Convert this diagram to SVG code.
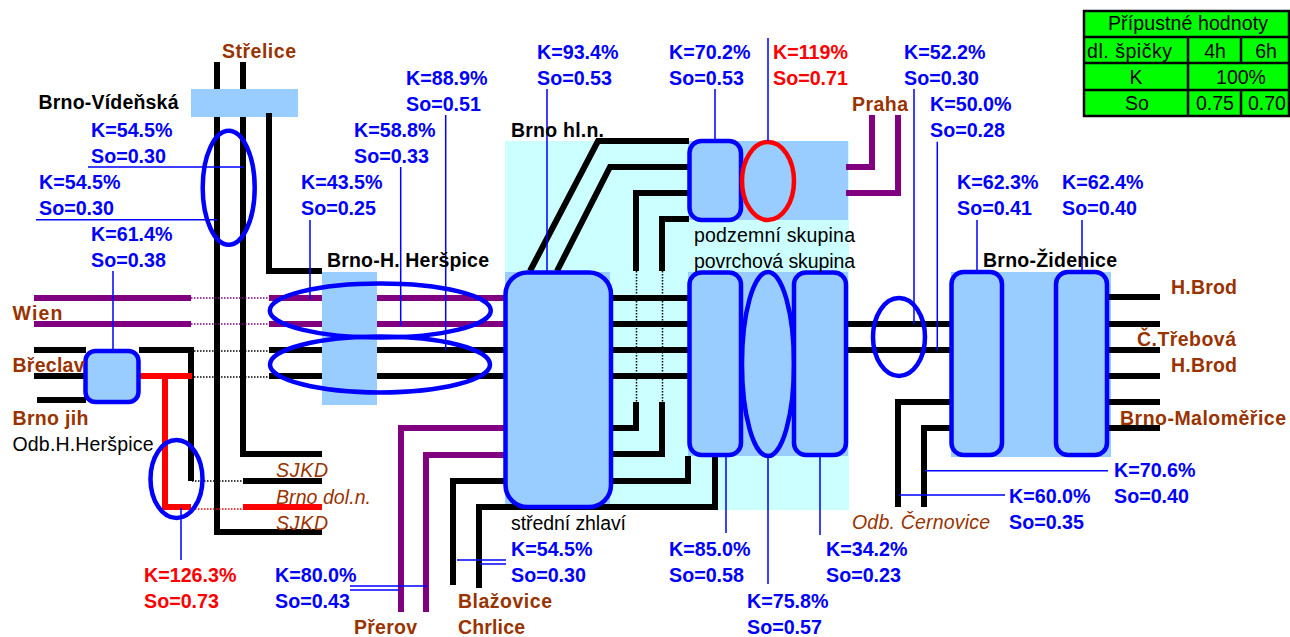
<svg xmlns="http://www.w3.org/2000/svg" width="1290" height="637" viewBox="0 0 1290 637">
<style>
text{font-family:"Liberation Sans",Arial,sans-serif;font-size:19.5px}
.b{font-weight:bold}
.kb{font-weight:bold;fill:#0000ff;font-size:19.7px}
.kr{font-weight:bold;fill:#ff0000;font-size:19.7px}
.st{font-weight:bold;fill:#993300}
.it{font-style:italic;fill:#993300}
.tc{text-anchor:middle}
.k,.p,.r{fill:none;stroke-width:6;stroke-linejoin:miter}
.k{stroke:#000}
.p{stroke:#800080}
.r{stroke:#ff0000}
.kd,.pd,.rd{fill:none;stroke-width:1.5;stroke-dasharray:1.5 1.5}
.kd{stroke:#000}
.pd{stroke:#800080}
.rd{stroke:#ff0000}
.t{fill:none;stroke:#0000ff;stroke-width:1.5}
.n{fill:#99ccff;stroke:#0000ff;stroke-width:4.5}
.o{fill:none;stroke:#0000ff;stroke-width:4.5}
.bg{fill:#99ccff}
.tl{fill:none;stroke:#000;stroke-width:2.5}
</style>
<g id="backgrounds">
<rect x="505" y="141" width="344" height="369" fill="#ccffff"/>
<rect x="688" y="141" width="160" height="79" class="bg"/>
<rect x="688" y="272" width="160" height="184" class="bg"/>
<rect x="505" y="272" width="105" height="238" class="bg"/>
<rect x="951" y="272" width="160" height="185" class="bg"/>
<rect x="191" y="89" width="107" height="28" class="bg"/>
<rect x="322" y="272" width="55" height="133" class="bg"/>
</g>
<g id="connectors">
<path class="k" d="M217 62V89M217 117V532H322"/>
<path class="k" d="M243 62V89M243 117V454H322"/>
<path class="k" d="M269 113V271H322"/>
<path class="p" d="M34 298H191M269 298H322M377 298H505M34 324H191M269 324H322M377 324H505"/>
<path class="pd" d="M191 298H269M191 324H269"/>
<path class="k" d="M34 350H86M34 376H86M37 400H86"/>
<path class="k" d="M139 350H191V481"/>
<path class="k" d="M269 350H322M377 350H505M269 376H322M377 376H505"/>
<path class="kd" d="M191 351H269M191 377H269M192 481H243"/>
<path class="k" d="M243 481H322"/>
<path class="r" d="M139 376H192M165 376V507H191"/>
<path class="rd" d="M192 509H243"/>
<path class="r" d="M243 507H322"/>
<path class="k" d="M530 271L598 141H689M557 271L610 167H689M636 271V193H689M662 271V219H689"/>
<path class="kd" d="M636.5 271V402M662.5 271V402"/>
<path class="k" d="M612 298H689M612 324H689M612 350H689M612 376H689"/>
<path class="k" d="M636 402V428H612M662 402V454H612M688 456V481H612M715 456V507H505"/>
<path class="p" d="M505 428H401V612M505 455H426V612"/>
<path class="k" d="M505 481H453V585M505 507H479V588"/>
<path class="p" d="M846 167H872V115M846 193H898V115"/>
<path class="k" d="M846 324H951M846 350H951"/>
<path class="k" d="M951 402H898V507M951 428H924V507"/>
<path class="k" d="M1109 297H1160M1109 324H1160M1109 350H1160M1109 376H1160M1109 402H1160M1109 428H1160"/>
</g>
<g id="node-brno-videnska">
<ellipse class="o" cx="228.7" cy="187.7" rx="26" ry="57"/>
<text class="b" x="38.5" y="109" textLength="140">Brno-Vídeňská</text>
</g>
<g id="node-breclav"><rect class="n" x="85.5" y="351" width="53" height="51" rx="10"/></g>
<g id="node-odb-herspice"><ellipse class="o" cx="176.5" cy="479" rx="26" ry="39"/></g>
<g id="node-herspice">
<ellipse class="o" cx="380.3" cy="310.5" rx="110.5" ry="27"/>
<ellipse class="o" cx="380" cy="364.5" rx="110" ry="28"/>
</g>
<g id="node-stredni"><rect class="n" x="505.5" y="272.5" width="105.5" height="234.5" rx="22"/></g>
<g id="node-podzemni">
<rect class="n" x="689.5" y="141" width="51.5" height="79" rx="12"/>
<ellipse cx="768" cy="181" rx="26" ry="39" fill="#99ccff" stroke="#ff0000" stroke-width="4.5"/>
</g>
<g id="node-povrchova">
<ellipse class="n" cx="768" cy="364" rx="26" ry="92"/>
<rect class="n" x="689.5" y="272.5" width="51.5" height="182.5" rx="12"/>
<rect class="n" x="794" y="272.5" width="52" height="182.5" rx="12"/>
</g>
<g id="node-odb-zidenice"><ellipse class="o" cx="899" cy="337" rx="26" ry="39"/></g>
<g id="node-zidenice">
<rect class="n" x="951.5" y="272" width="50.5" height="183" rx="12"/>
<rect class="n" x="1056" y="272" width="51" height="183" rx="12"/>
</g>
<g id="leaders">
<path class="t" d="M88 167H244M36 219.7H217M113 271V350M310 220V299M400.7 167V326M445.7 115V350M181 508V560"/>
<path class="t" d="M547 89V272M715 89V141M768 38V141M726 456V533M768 456V584M820 456V535"/>
<path class="t" d="M914 89V324M937.3 141.700V350.700M977 220V272M1082 220V272M925 470.700H1108M899 495H1005"/>
<path class="t" d="M457 560H506M480 564H506M350 586H427M350 590H399"/>
</g>
<g id="labels">
<text class="st" x="222" y="58" textLength="74">Střelice</text>
<text class="kb" x="91" y="137">K=54.5%</text><text class="kb" x="91" y="163">So=0.30</text>
<text class="kb" x="39" y="189">K=54.5%</text><text class="kb" x="39" y="215">So=0.30</text>
<text class="kb" x="91" y="241">K=61.4%</text><text class="kb" x="91" y="267">So=0.38</text>
<text class="kb" x="301" y="189">K=43.5%</text><text class="kb" x="301" y="215">So=0.25</text>
<text class="kb" x="354" y="137">K=58.8%</text><text class="kb" x="354" y="163">So=0.33</text>
<text class="kb" x="406" y="85">K=88.9%</text><text class="kb" x="406" y="111">So=0.51</text>
<text class="kb" x="537" y="59">K=93.4%</text><text class="kb" x="537" y="85">So=0.53</text>
<text class="kb" x="669" y="59">K=70.2%</text><text class="kb" x="669" y="85">So=0.53</text>
<text class="kr" x="773" y="59">K=119%</text><text class="kr" x="773" y="85">So=0.71</text>
<text class="kb" x="904" y="59">K=52.2%</text><text class="kb" x="904" y="85">So=0.30</text>
<text class="kb" x="930" y="111">K=50.0%</text><text class="kb" x="930" y="137">So=0.28</text>
<text class="st" x="852" y="111" textLength="56">Praha</text>
<text class="kb" x="957" y="189">K=62.3%</text><text class="kb" x="957" y="215">So=0.41</text>
<text class="kb" x="1062" y="189">K=62.4%</text><text class="kb" x="1062" y="215">So=0.40</text>
<text class="b" x="511" y="137" textLength="93">Brno hl.n.</text>
<text class="b" x="327" y="267" textLength="162">Brno-H. Heršpice</text>
<text class="b" x="983" y="267" textLength="134">Brno-Židenice</text>
<text class="st" x="1171" y="294" textLength="66">H.Brod</text>
<text class="st" x="1137" y="346" textLength="99">Č.Třebová</text>
<text class="st" x="1171" y="372" textLength="66">H.Brod</text>
<text class="st" x="1120" y="425" textLength="166">Brno-Maloměřice</text>
<text class="st" x="12.500" y="320" textLength="50">Wien</text>
<text class="st" x="12.500" y="372" textLength="72">Břeclav</text>
<text class="st" x="12.500" y="425" textLength="76">Brno jih</text>
<text x="12.500" y="451" textLength="141">Odb.H.Heršpice</text>
<text class="it" x="276" y="477" textLength="52">SJKD</text>
<text class="it" x="276" y="504" textLength="95">Brno dol.n.</text>
<text class="it" x="276" y="530" textLength="52">SJKD</text>
<text class="kr" x="144" y="582">K=126.3%</text><text class="kr" x="144" y="608">So=0.73</text>
<text class="kb" x="275" y="582">K=80.0%</text><text class="kb" x="275" y="608">So=0.43</text>
<text class="st" x="354" y="634" textLength="63">Přerov</text>
<text class="st" x="458" y="608" textLength="94">Blažovice</text>
<text class="st" x="458" y="634" textLength="67">Chrlice</text>
<text x="511" y="530" textLength="115">střední zhlaví</text>
<text class="kb" x="511" y="556">K=54.5%</text><text class="kb" x="511" y="582">So=0.30</text>
<text class="kb" x="669" y="556">K=85.0%</text><text class="kb" x="669" y="582">So=0.58</text>
<text class="kb" x="826" y="556">K=34.2%</text><text class="kb" x="826" y="582">So=0.23</text>
<text class="kb" x="747" y="608">K=75.8%</text><text class="kb" x="747" y="634">So=0.57</text>
<text class="it" x="852" y="529" textLength="138">Odb. Černovice</text>
<text class="kb" x="1114" y="477">K=70.6%</text><text class="kb" x="1114" y="503">So=0.40</text>
<text class="kb" x="1009" y="503">K=60.0%</text><text class="kb" x="1009" y="529">So=0.35</text>
<text x="694" y="242" textLength="161">podzemní skupina</text>
<text x="694" y="268" textLength="161">povrchová skupina</text>
</g>
<g id="limits-table">
<rect x="1084" y="11" width="205" height="105" fill="#00ff00" stroke="#000" stroke-width="2.500"/>
<path class="tl" d="M1084 37H1290M1084 63H1290M1084 90H1290M1188 37V116M1241 37V63M1241 90V116"/>
<text x="1108" y="30" textLength="160">Přípustné hodnoty</text>
<text x="1087" y="58" textLength="85">dl. špičky</text>
<text class="tc" x="1215" y="58">4h</text>
<text class="tc" x="1266" y="58">6h</text>
<text class="tc" x="1136" y="84">K</text>
<text class="tc" x="1241" y="84">100%</text>
<text class="tc" x="1137" y="110">So</text>
<text class="tc" x="1215" y="110">0.75</text>
<text class="tc" x="1267" y="110">0.70</text>
</g>
</svg>
